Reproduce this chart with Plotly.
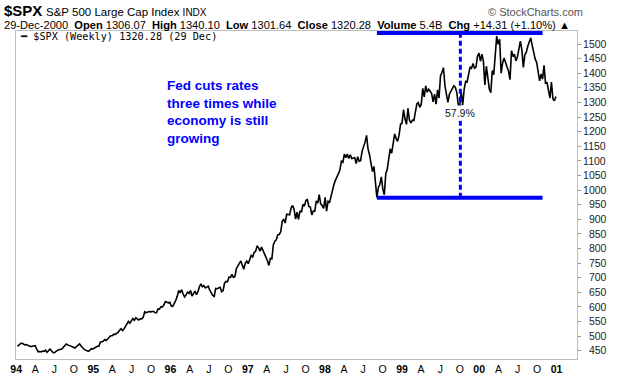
import pandas as pd
import plotly.graph_objects as go

# ---------------- data (weekly closes) ----------------
spx_1994 = [465, 470, 474, 476, 472, 470, 471, 468, 466, 464, 465, 467, 467, 455, 446, 447,
            446, 449, 448, 452, 445, 450, 456, 450, 444, 443, 448, 451, 453, 455, 456, 462,
            466, 473, 470, 468, 466, 465, 462, 459, 465, 470, 473, 466, 459, 455, 452, 450,
            448, 452, 457, 456]
spx_1995 = [460, 461, 465, 465, 479, 481, 482, 488, 485, 490, 496, 501, 501, 506, 506, 509,
            513, 520, 525, 519, 524, 533, 540, 550, 544, 554, 560, 554, 563, 559, 555, 559,
            559, 564, 583, 580, 582, 584, 583, 584, 585, 580, 580, 593, 592, 600, 600, 607,
            618, 616, 614, 616]
spx_1996 = [603, 602, 611, 622, 636, 656, 648, 659, 644, 634, 641, 651, 646, 656, 637, 645,
            654, 642, 652, 669, 679, 669, 673, 665, 667, 671, 657, 646, 639, 636, 663, 662,
            665, 667, 652, 656, 681, 687, 686, 702, 701, 711, 701, 704, 731, 738, 749, 757,
            740, 729, 749, 757]
spx_1997 = [748, 760, 776, 771, 786, 790, 809, 802, 791, 805, 793, 784, 774, 758, 742, 766,
            765, 813, 825, 830, 847, 848, 858, 893, 899, 887, 917, 917, 915, 939, 947, 934,
            901, 924, 900, 929, 924, 951, 945, 965, 967, 944, 942, 915, 928, 928, 963, 955,
            984, 953, 947, 937]
spx_1998 = [975, 928, 962, 958, 980, 1004, 1020, 1034, 1049, 1056, 1069, 1099, 1095, 1123,
            1111, 1123, 1108, 1121, 1108, 1109, 1111, 1091, 1114, 1099, 1101, 1133, 1146, 1164,
            1187, 1141, 1121, 1090, 1063, 1081, 1027, 974, 1009, 1020, 1045, 1003, 984, 1056,
            1071, 1099, 1141, 1126, 1164, 1192, 1177, 1167, 1188, 1226]
spx_1999 = [1229, 1275, 1243, 1225, 1280, 1239, 1230, 1239, 1238, 1276, 1295, 1299, 1283,
            1294, 1348, 1319, 1357, 1335, 1345, 1338, 1330, 1302, 1328, 1294, 1343, 1315,
            1391, 1403, 1419, 1357, 1329, 1300, 1328, 1337, 1348, 1357, 1352, 1335, 1292,
            1290, 1336, 1291, 1345, 1372, 1370, 1396, 1422, 1417, 1433, 1417, 1421, 1458, 1469]
spx_2000 = [1441, 1465, 1441, 1360, 1424, 1387, 1346, 1333, 1409, 1395, 1465, 1527, 1499,
            1516, 1400, 1435, 1452, 1433, 1421, 1407, 1378, 1477, 1457, 1465, 1442, 1455,
            1479, 1510, 1480, 1420, 1463, 1472, 1492, 1507, 1521, 1495, 1466, 1449, 1437,
            1409, 1374, 1397, 1380, 1427, 1366, 1368, 1342, 1315, 1370, 1312, 1306, 1320]

year_series = [("1994-01-07", spx_1994), ("1995-01-06", spx_1995), ("1996-01-05", spx_1996),
               ("1997-01-03", spx_1997), ("1998-01-02", spx_1998), ("1999-01-01", spx_1999),
               ("2000-01-07", spx_2000)]

y_ticks = list(range(450, 1501, 50))
x_years = ["94", "95", "96", "97", "98", "99", "00", "01"]
x_months = ["A", "J", "O"]

low_date, low_value = "1998-09-04", 974
gain_pct = 57.9
line_end_date = "2000-10-27"
measure_date = "1999-10-04"

# ---------------- build ----------------
dates, values = [], []
for start, vals in year_series:
    dates += list(pd.date_range(start, periods=len(vals), freq="7D"))
    values += vals

tickvals, ticktext = [], []
for i, yy in enumerate(x_years):
    year = 1994 + i
    tickvals.append(pd.Timestamp(f"{year}-01-01"))
    ticktext.append(f"<b>{yy}</b>")
    if year < 2001:
        for m, lab in zip((4, 7, 10), x_months):
            tickvals.append(pd.Timestamp(f"{year}-{m:02d}-01"))
            ticktext.append(lab)

y_text = [("\u2007" if v < 1000 else "") + str(v) for v in y_ticks]

BLUE = "#0000ff"
W, H = 620, 376
L, R, T, B = 16, 43, 31, 17
PW, PH = W - L - R, H - T - B


def px(x):
    return (x - L) / PW


def py(y):
    return (H - B - y) / PH


fig = go.Figure()
fig.add_trace(go.Scatter(x=dates, y=values, mode="lines",
                         line=dict(color="black", width=1.6), showlegend=False,
                         hoverinfo="skip"))

high_value = low_value * (1 + gain_pct / 100)
fig.add_shape(type="line", xref="x", yref="y", x0=low_date, x1=line_end_date,
              y0=low_value, y1=low_value, line=dict(color=BLUE, width=4))
fig.add_shape(type="line", xref="x", yref="y", x0=low_date, x1=line_end_date,
              y0=high_value, y1=high_value, line=dict(color=BLUE, width=4))
fig.add_shape(type="line", xref="x", yref="y", x0=measure_date, x1=measure_date,
              y0=low_value, y1=high_value, line=dict(color=BLUE, width=3, dash="5px,3px"))

ann = []
ann.append(dict(x=measure_date, y=1265, xref="x", yref="y", text=f"{gain_pct}%",
                showarrow=False, font=dict(family="Liberation Sans, Arial", size=10.5, color="#111"),
                xanchor="center", yanchor="middle", borderpad=1, bgcolor="white"))
ann.append(dict(x=px(166), y=py(77), xref="paper", yref="paper",
                text="Fed cuts rates<br>three times while<br>economy is still<br>growing",
                showarrow=False, align="left", xanchor="left", yanchor="top", borderpad=0,
                font=dict(family="Liberation Sans, Arial", size=13.5, color=BLUE, weight="bold")))
ann.append(dict(x=px(19), y=py(36.5), xref="paper", yref="paper",
                text="\u2501 $SPX (Weekly) 1320.28 (29 Dec)", showarrow=False,
                xanchor="left", yanchor="middle", borderpad=0,
                font=dict(family="DejaVu Sans Mono, monospace", size=10.2, color="black")))
# header
ann.append(dict(x=px(3), y=py(11), xref="paper", yref="paper",
                text="<b>$SPX</b>", showarrow=False, xanchor="left", yanchor="middle", borderpad=0,
                font=dict(family="Liberation Sans, Arial", size=15, color="black")))
ann.append(dict(x=px(45), y=py(12), xref="paper", yref="paper",
                text="S&P 500 Large Cap Index <span style='font-size:10px'>INDX</span>",
                showarrow=False, xanchor="left", yanchor="middle", borderpad=0,
                font=dict(family="Liberation Sans, Arial", size=11.5, color="black")))
ann.append(dict(x=px(584), y=py(12), xref="paper", yref="paper",
                text="\u00a9 StockCharts.com", showarrow=False, xanchor="right", yanchor="middle",
                borderpad=0, font=dict(family="Liberation Sans, Arial", size=11, color="#555")))
sp = "\u00a0\u00a0"
hdr = (f"29-Dec-2000{sp}<b>Open</b> 1306.07{sp}<b>High</b> 1340.10{sp}<b>Low</b> 1301.64{sp}"
       f"<b>Close</b> 1320.28{sp}<b>Volume</b> 5.4B{sp}<b>Chg</b> +14.31 (+1.10%) \u25b2")
ann.append(dict(x=px(3), y=py(24.5), xref="paper", yref="paper", text=hdr,
                showarrow=False, xanchor="left", yanchor="middle", borderpad=0,
                font=dict(family="Liberation Sans, Arial", size=11.1, color="black")))

fig.update_layout(
    width=W, height=H, margin=dict(l=L, r=R, t=T, b=B, autoexpand=False),
    paper_bgcolor="white", plot_bgcolor="white",
    annotations=ann,
    xaxis=dict(range=["1993-12-31", "2001-04-08"], tickvals=tickvals, ticktext=ticktext,
               showgrid=False, zeroline=False, showline=True, mirror=True, automargin=False,
               linecolor="#bdbdbd", linewidth=1, ticks="", tickangle=0,
               tickfont=dict(family="Liberation Sans, Arial", size=10.5, color="black")),
    yaxis=dict(range=[421.6, 1544.5], side="right", tickvals=y_ticks, ticktext=y_text,
               showgrid=False, zeroline=False, showline=True, mirror=True, automargin=False,
               linecolor="#bdbdbd", linewidth=1, ticks="outside", ticklen=3, tickcolor="#999",
               tickfont=dict(family="Liberation Sans, Arial", size=10.5, color="#222")),
)

fig.write_html("out.html", config={"displayModeBar": False},
               post_script="document.body.style.margin='0px';")
